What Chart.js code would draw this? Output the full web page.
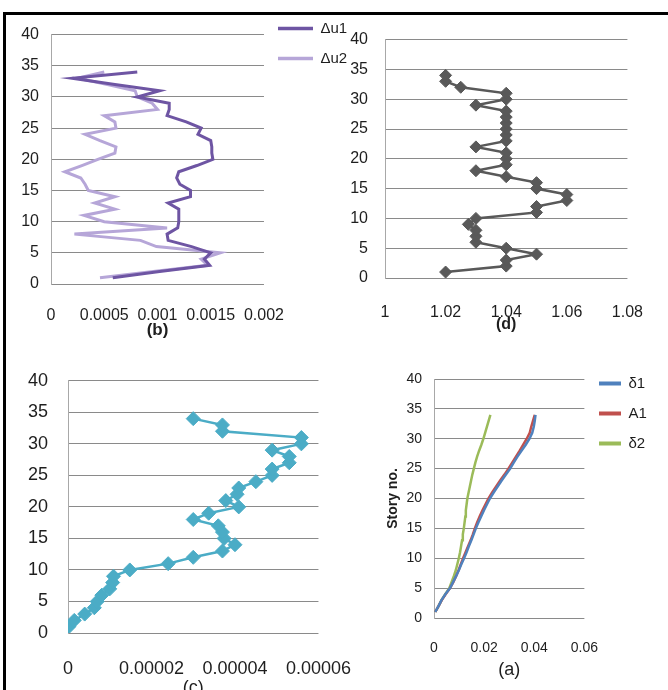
<!DOCTYPE html>
<html>
<head>
<meta charset="utf-8">
<script src="https://cdn.jsdelivr.net/npm/chart.js@4.4.1/dist/chart.umd.min.js"></script>
<style>
  html, body { margin:0; padding:0; background:#fff; overflow:hidden; width:668px; height:690px; }
  canvas { position:absolute; }
  #frame { position:absolute; left:3px; top:12px; width:700px; height:700px; border-top:3px solid #000; border-left:3px solid #000; }
</style>
</head>
<body>
<div id="frame"></div>
<canvas id="cb"></canvas>
<canvas id="cd"></canvas>
<canvas id="cc"></canvas>
<canvas id="ca"></canvas>
<canvas id="lb"></canvas>
<canvas id="la"></canvas>
<script>
// ---------------- data ----------------
const stories = [1,2,3,4,5,6,7,8,9,10,11,12,13,14,15,16,17,18,19,20,21,22,23,24,25,26,27,28,29,30,31,32,33,34];
const yTickValues = [0,5,10,15,20,25,30,35,40];
const yTickLabels = ['0','5','10','15','20','25','30','35','40'];

// (b)
const seriesNamesB = ['Δu1','Δu2'];
const du1 = [0.00058,0.00102,0.00149,0.00144,0.0015,0.00132,0.0011,0.00109,0.00119,0.0012,0.0012,0.0012,0.0011,0.00131,0.00131,0.00121,0.00118,0.0012,0.00137,0.00152,0.00151,0.00151,0.0015,0.00138,0.00141,0.00127,0.00109,0.00111,0.00111,0.00081,0.00102,0.0006,0.0002,0.00081];
const du2 = [0.00046,0.00096,0.00147,0.00141,0.00159,0.00099,0.00084,0.00022,0.00109,0.0005,0.00031,0.0006,0.00041,0.0006,0.00035,0.00032,0.00028,0.00013,0.00029,0.00044,0.0006,0.00061,0.00046,0.00032,0.00061,0.0006,0.0005,0.001,0.00095,0.00081,0.00079,0.00053,0.00025,0.0005];
const xTickValuesB = [0,0.0005,0.001,0.0015,0.002];
const xTickLabelsB = ['0','0.0005','0.001','0.0015','0.002'];

// (d)
const ratioD = [1.02,1.04,1.04,1.05,1.04,1.03,1.03,1.03,1.0275,1.03,1.05,1.05,1.06,1.06,1.05,1.05,1.04,1.03,1.04,1.04,1.04,1.03,1.04,1.04,1.04,1.04,1.04,1.04,1.03,1.04,1.04,1.025,1.02,1.02];
const xTickValuesD = [1,1.02,1.04,1.06,1.08];
const xTickLabelsD = ['1','1.02','1.04','1.06','1.08'];

// (c)
const valC = [0.0000002,0.0000015,0.000004,0.0000063,0.000007,0.0000081,0.00001,0.0000107,0.0000109,0.0000148,0.000024,0.00003,0.000037,0.00004,0.0000374,0.000037,0.000036,0.00003,0.0000337,0.0000409,0.0000378,0.0000405,0.0000409,0.000045,0.0000489,0.0000489,0.000053,0.000053,0.0000489,0.0000559,0.0000559,0.000037,0.000037,0.00003];
const xTickValuesC = [0,0.00002,0.00004,0.00006];
const xTickLabelsC = ['0','0.00002','0.00004','0.00006'];

// (a)
const seriesNamesA = ['δ1','A1','δ2'];
const d1 = [0.0005,0.0018,0.003,0.0046,0.0064,0.0076,0.0088,0.0099,0.0109,0.012,0.013,0.0139,0.0149,0.0158,0.0167,0.0177,0.0188,0.0199,0.0211,0.0223,0.0238,0.0254,0.027,0.0287,0.0304,0.0318,0.0333,0.0349,0.0366,0.0381,0.0392,0.0398,0.0402,0.0405];
const a1 = [0.0005,0.0018,0.0031,0.0047,0.0064,0.0077,0.0088,0.0098,0.0107,0.0116,0.0126,0.0136,0.0146,0.0155,0.0163,0.0172,0.0182,0.0193,0.0205,0.0217,0.0232,0.0248,0.0264,0.0281,0.0297,0.0312,0.0327,0.0342,0.0356,0.037,0.0382,0.0388,0.0395,0.0402];
const d2 = [0.0005,0.0018,0.003,0.0045,0.0061,0.007,0.0079,0.0087,0.0093,0.0099,0.0104,0.0108,0.0112,0.0115,0.0119,0.0122,0.0125,0.0127,0.013,0.0133,0.0138,0.0143,0.0148,0.0153,0.0159,0.0165,0.0172,0.018,0.0189,0.0197,0.0204,0.0211,0.0218,0.0225];
const xTickValuesA = [0,0.02,0.04,0.06];
const xTickLabelsA = ['0','0.02','0.04','0.06'];

// ---------------- helpers ----------------
const FONT = "'Liberation Sans', Arial, sans-serif";
Chart.defaults.font.family = FONT;
const TXT = '#1e1e1e';
const GRID = '#8a8a8a';

function pts(xs){ return stories.map((s,i)=>({x:xs[i], y:s})); }

function place(id, left, top, w, h){
  const c = document.getElementById(id);
  c.width = w; c.height = h;
  c.style.left = left + 'px'; c.style.top = top + 'px';
  c.style.width = w + 'px'; c.style.height = h + 'px';
  return c;
}

function makePanel(id, box, datasets, o){
  const c = place(id, box.left, box.top, box.w, box.h);
  return new Chart(c, {
    type:'scatter',
    data:{ datasets },
    options:{
      responsive:false, animation:false, events:[],
      layout:{ padding:{ top:o.padTop, right:o.padRight, left:0, bottom:0 } },
      plugins:{ legend:{display:false}, tooltip:{enabled:false} },
      scales:{
        x:{
          type:'linear', min:o.xVals[0], max:o.xVals[o.xVals.length-1],
          afterBuildTicks: s => { s.ticks = o.xVals.map(v=>({value:v})); },
          afterFit: s => { s.height = o.xH; },
          grid:{ display:false, drawTicks:false },
          border:{ display:false },
          ticks:{ autoSkip:false, maxRotation:0, padding:o.xPad, color:TXT, font:{size:o.tickSize},
                  callback:(v,i)=>o.xLabels[i] },
          title:{ display:true, text:o.title, color:TXT, font:{size:o.titleSize, weight:o.titleWeight},
                  padding:{top:0, bottom:o.titlePad} }
        },
        y:{
          type:'linear', min:0, max:40,
          afterBuildTicks: s => { s.ticks = yTickValues.map(v=>({value:v})); },
          afterFit: s => { s.width = o.yW; },
          grid:{ color:GRID, lineWidth:1, drawTicks:false },
          border:{ display:true, color:'#a8a8a8', width:1 },
          ticks:{ padding:o.yPad, color:TXT, font:{size:o.tickSize}, callback:(v,i)=>yTickLabels[i] },
          title: o.yTitle ? { display:true, text:o.yTitle, color:TXT, font:{size:14, weight:'bold'}, padding:{top:o.yTitlePad, bottom:0} } : { display:false }
        }
      }
    }
  });
}

function makeLegend(id, box, names, colors, o){
  const c = place(id, box.left, box.top, box.w, box.h);
  return new Chart(c, {
    type:'scatter',
    data:{ datasets: names.map((n,i)=>({ label:n, data:[], borderColor:colors[i], backgroundColor:colors[i], borderWidth:o.lw })) },
    options:{
      responsive:false, animation:false, events:[],
      layout:{ padding:0 },
      scales:{ x:{display:false}, y:{display:false} },
      plugins:{
        tooltip:{enabled:false},
        legend:{ display:true, position:'left', align:'start',
          labels:{ usePointStyle:true, pointStyle:'line', pointStyleWidth:o.bw, padding:o.pad,
                   color:TXT, font:{size:o.size} } }
      }
    }
  });
}

// ---------------- (b) ----------------
const colB = ['#6E55A3','#B6A6D8'];
makePanel('cb', {left:6, top:13, w:300, h:335}, [
  { data:pts(du1), showLine:true, borderColor:colB[0], backgroundColor:colB[0], borderWidth:3, pointRadius:0, tension:0 },
  { data:pts(du2), showLine:true, borderColor:colB[1], backgroundColor:colB[1], borderWidth:3, pointRadius:0, tension:0 }
], { padTop:11, padRight:34, yW:45, yPad:12, xH:64, xPad:22, tickSize:16,
     xVals:xTickValuesB, xLabels:xTickLabelsB, title:'(b)', titleSize:17, titleWeight:'bold', titlePad:7.8 });

// ---------------- (d) ----------------
const colD = '#595959';
makePanel('cd', {left:340, top:13, w:328, h:335}, [
  { data:pts(ratioD), showLine:true, borderColor:colD, backgroundColor:colD, borderWidth:2.5,
    pointStyle:'rectRot', pointRadius:6, pointBorderWidth:1, pointBackgroundColor:colD, pointBorderColor:colD }
], { padTop:22, padRight:40, yW:45, yPad:17, xH:70, xPad:25, tickSize:16,
     xVals:xTickValuesD, xLabels:xTickLabelsD, title:'(d)', titleSize:16, titleWeight:'bold', titlePad:13.4 });

// ---------------- (c) ----------------
const colC = '#4BACC6';
makePanel('cc', {left:6, top:350, w:370, h:360}, [
  { data:pts(valC), showLine:true, borderColor:colC, backgroundColor:colC, borderWidth:2.5,
    pointStyle:'rectRot', pointRadius:7, pointBorderWidth:1, pointBackgroundColor:colC, pointBorderColor:colC }
], { padTop:15, padRight:37, yW:62, yPad:20, xH:77, xPad:25, tickSize:18,
     xVals:xTickValuesC, xLabels:xTickLabelsC, title:'(c)', titleSize:18, titleWeight:'normal', titlePad:11.2 });

// ---------------- (a) ----------------
const colA = ['#4F81BD','#C0504D','#9BBB59'];
makePanel('ca', {left:380, top:355, w:240, h:335}, [
  { data:pts(d1), showLine:true, borderColor:colA[0], backgroundColor:colA[0], borderWidth:2.5, pointRadius:0 },
  { data:pts(a1), showLine:true, borderColor:colA[1], backgroundColor:colA[1], borderWidth:2.5, pointRadius:0 },
  { data:pts(d2), showLine:true, borderColor:colA[2], backgroundColor:colA[2], borderWidth:2.5, pointRadius:0 }
], { padTop:24, padRight:32, yW:54, yPad:12, xH:72, xPad:22, tickSize:14,
     xVals:xTickValuesA, xLabels:xTickLabelsA, title:'(a)', titleSize:18, titleWeight:'normal', titlePad:9.2,
     yTitle:'Story no.', yTitlePad:4.6 });

// ---------------- legends ----------------
makeLegend('lb', {left:263, top:6, w:420, h:80}, seriesNamesB, colB, { lw:3.5, bw:35, pad:15, size:15 });
makeLegend('la', {left:584, top:361, w:420, h:110}, seriesNamesA, colA, { lw:4, bw:22, pad:15, size:15 });
</script>
</body>
</html>
